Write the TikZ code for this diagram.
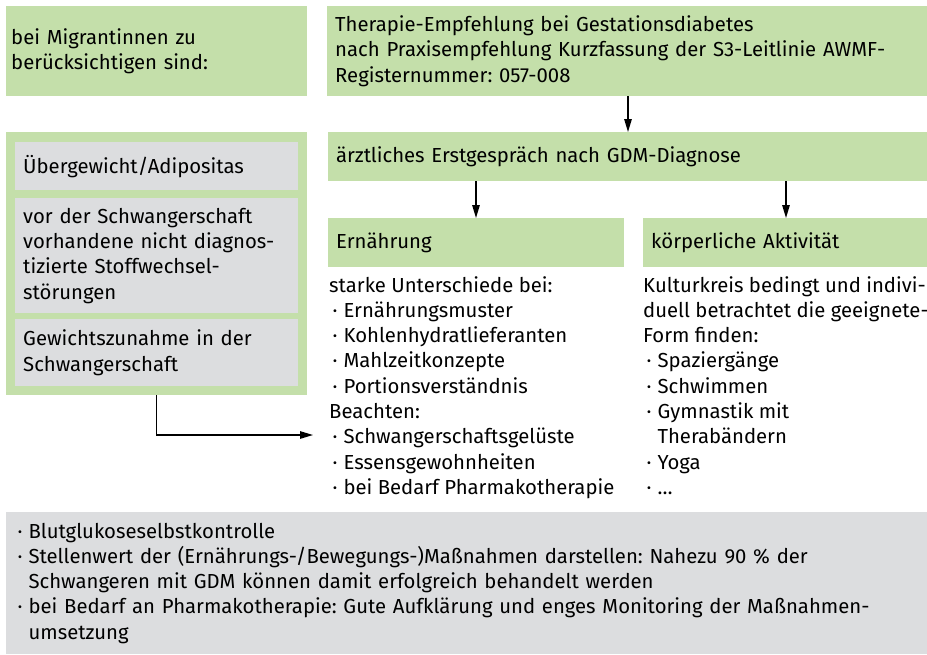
\documentclass[tikz,border=0pt]{standalone}
\usepackage{fontspec}
\setmainfont{Fira Sans}
\usetikzlibrary{arrows.meta,calc}
\definecolor{gr}{HTML}{C4DFAA}
\definecolor{gy}{HTML}{DCDDDF}
\newcommand\bl{\hspace*{3.5pt}·\hspace{6pt}}
\newcommand\blind{\hphantom{\hspace*{3.5pt}·\hspace{6pt}}}
\tikzset{
  txt/.style={font=\fontsize{20.3}{25.3}\selectfont\frenchspacing, align=left, inner sep=0pt},
  gbox/.style={txt, fill=gr, anchor=north west, inner xsep=8pt, minimum height=#1},
  ybox/.style={txt, fill=gy, anchor=north west, inner xsep=8pt, minimum height=#1},
  arr/.style={line width=1.3pt, -{Triangle[length=13pt,width=7.5pt]}},
}
\begin{document}
\begin{tikzpicture}[x=1pt,y=-1pt]
\useasboundingbox (0,0) rectangle (927,654);
% top row
\node[gbox=90pt, text width=291pt, inner xsep=5pt] (mig) at (6,6) {bei Migrantinnen zu\\berücksichtigen sind:};
\node[gbox=90pt, text width=584pt] (ther) at (327,6) {Therapie-Empfehlung bei Gestationsdiabetes\\nach Praxisempfehlung Kurzfassung der S3-Leitlinie AWMF-\\Registernummer: 057-008};
% second row
\node[gbox=49pt, text width=583pt] (arzt) at (328,132) {ärztliches Erstgespräch nach GDM-Diagnose};
% left column
\node[fill=gr, anchor=north west, minimum width=301pt, minimum height=263pt, inner sep=0pt] (left) at (6,132) {};
\node[ybox=48pt, text width=267pt] (g1) at (15,142) {Übergewicht/Adipositas};
\node[ybox=115pt, text width=267pt] (g2) at (15,198) {vor der Schwangerschaft\\vorhandene nicht diagnos-\\tizierte Stoffwechsel-\\störungen};
\node[ybox=67pt, text width=267pt] (g3) at (15,319) {Gewichtszunahme in der\\Schwangerschaft};
% third row
\node[gbox=49pt, text width=280pt] (ern) at (328,218) {Ernährung};
\node[gbox=49pt, text width=268pt] (kor) at (643,218) {körperliche Aktivität};
% lists
\node[txt, anchor=north west] (ernl) at (329,276) {starke Unterschiede bei:\\
\bl Ernährungsmuster\\
\bl Kohlenhydratlieferanten\\
\bl Mahlzeitkonzepte\\
\bl Portionsverständnis\\
Beachten:\\
\bl Schwangerschaftsgelüste\\
\bl Essensgewohnheiten\\
\bl bei Bedarf Pharmakotherapie};
\node[txt, anchor=north west] (korl) at (643,276) {Kulturkreis bedingt und indivi-\\
duell betrachtet die geeignete-\\
Form finden:\\
\bl Spaziergänge\\
\bl Schwimmen\\
\bl Gymnastik mit\\
\blind Therabändern\\
\bl Yoga\\
\bl \dots};
% bottom box
\node[ybox=142pt, text width=905pt, inner xsep=8pt] (bot) at (6,512) {\bl Blutglukoseselbstkontrolle\\
\bl Stellenwert der (Ernährungs-/Bewegungs-)Maßnahmen darstellen: Nahezu 90 \% der\\
\blind Schwangeren mit GDM können damit erfolgreich behandelt werden\\
\bl bei Bedarf an Pharmakotherapie: Gute Aufklärung und enges Monitoring der Maßnahmen-\\
\blind umsetzung};
% connectors
\draw[arr] ([xshift=301pt]ther.south west) -- ([xshift=300pt]arzt.north west);
\draw[arr] ([xshift=148pt]arzt.south west) -- ([xshift=148pt]ern.north west);
\draw[arr] ([xshift=143pt]kor.north west |- arzt.south) -- ([xshift=143pt]kor.north west);
\coordinate (tip) at (313,435);
\draw[arr] (left.south) |- (tip);
\end{tikzpicture}
\end{document}
